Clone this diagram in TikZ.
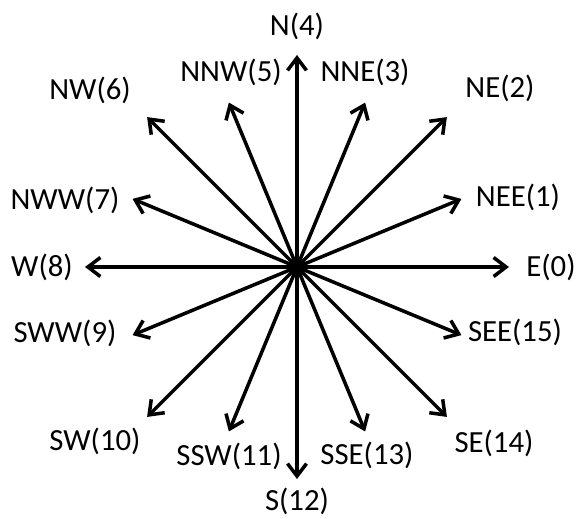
\documentclass[tikz,border=0pt]{standalone}
\usepackage{fontspec}
\setmainfont{Carlito}
\usetikzlibrary{arrows.meta}

\begin{document}
\begin{tikzpicture}[line width=2pt,
  >={Straight Barb[length=2.5mm,width=3.8mm]},
  lbl/.style={font=\fontsize{17.5}{20}\selectfont}]
  \useasboundingbox (-5.94,-5.02) rectangle (5.62,5.34);
  % centre of the rose
  \coordinate (o) at (0,0);
  % main and diagonal directions
  \foreach \ang/\nm in {0/E,45/NE,90/N,135/NW,180/W,225/SW,270/S,315/SE}
    {\coordinate (t\nm) at (\ang:4.24);}
  % in-between directions (shorter)
  \foreach \ang/\nm in {22.5/NEE,67.5/NNE,112.5/NNW,157.5/NWW,202.5/SWW,247.5/SSW,292.5/SSE,337.5/SEE}
    {\coordinate (t\nm) at (\ang:3.56);}
  % arrows
  \foreach \nm in {E,NEE,NE,NNE,N,NNW,NW,NWW,W,SWW,SW,SSW,S,SSE,SE,SEE}
    {\draw[->] (o) -- (t\nm);}
  % labels
  \node[lbl] (lE)   at (5.08,0)      {E(0)};
  \node[lbl] (lNEE) at (4.42,1.40)   {NEE(1)};
  \node[lbl] (lNE)  at (4.06,3.58)   {NE(2)};
  \node[lbl] (lNNE) at (1.36,3.90)   {NNE(3)};
  \node[lbl] (lN)   at (0,4.82)      {N(4)};
  \node[lbl] (lNNW) at (-1.32,3.90)  {NNW(5)};
  \node[lbl] (lNW)  at (-4.14,3.54)  {NW(6)};
  \node[lbl] (lNWW) at (-4.64,1.34)  {NWW(7)};
  \node[lbl] (lW)   at (-5.10,0)     {W(8)};
  \node[lbl] (lSWW) at (-4.64,-1.32) {SWW(9)};
  \node[lbl] (lSW)  at (-4.04,-3.48) {SW(10)};
  \node[lbl] (lSSW) at (-1.36,-3.78) {SSW(11)};
  \node[lbl] (lS)   at (0,-4.68)     {S(12)};
  \node[lbl] (lSSE) at (1.40,-3.76)  {SSE(13)};
  \node[lbl] (lSE)  at (3.94,-3.52)  {SE(14)};
  \node[lbl] (lSEE) at (4.36,-1.30)  {SEE(15)};
\end{tikzpicture}
\end{document}
